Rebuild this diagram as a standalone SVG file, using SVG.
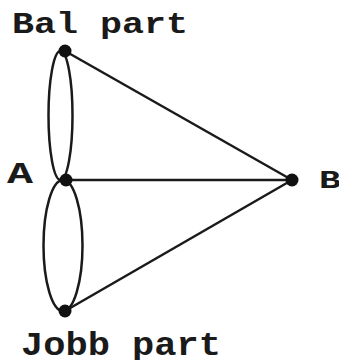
<svg xmlns="http://www.w3.org/2000/svg" width="339" height="360" viewBox="0 0 339 360">
<style>
.lbl{font-family:"Liberation Mono","Courier New",monospace;font-weight:bold;fill:#1a1a1a}
.e{fill:none;stroke:#1a1a1a;stroke-width:2.5}
.n{fill:#111}
</style>
<rect width="339" height="360" fill="#fff"/>
<g id="connectors">
<ellipse class="e" cx="60.5" cy="115.5" rx="12" ry="64.5"/>
<ellipse class="e" cx="63" cy="245.5" rx="19.5" ry="65.5"/>
<line class="e" x1="65" y1="51" x2="292" y2="180"/>
<line class="e" x1="66" y1="180" x2="292" y2="180"/>
<line class="e" x1="65" y1="311" x2="292" y2="180"/>
</g>
<g id="top"><circle class="n" cx="65" cy="51" r="6.5"/><text class="lbl" x="12" y="33" font-size="30" textLength="176" lengthAdjust="spacingAndGlyphs">Bal part</text></g>
<g id="A"><circle class="n" cx="66" cy="180" r="6.5"/><text class="lbl" x="7" y="183" font-size="30" textLength="26" lengthAdjust="spacingAndGlyphs">A</text></g>
<g id="B"><circle class="n" cx="292" cy="180" r="6.5"/><text class="lbl" x="319" y="188" font-size="25" textLength="22" lengthAdjust="spacingAndGlyphs">B</text></g>
<g id="bottom"><circle class="n" cx="65" cy="311" r="6.5"/><text class="lbl" x="21" y="355" font-size="33" textLength="200" lengthAdjust="spacingAndGlyphs">Jobb part</text></g>
</svg>
